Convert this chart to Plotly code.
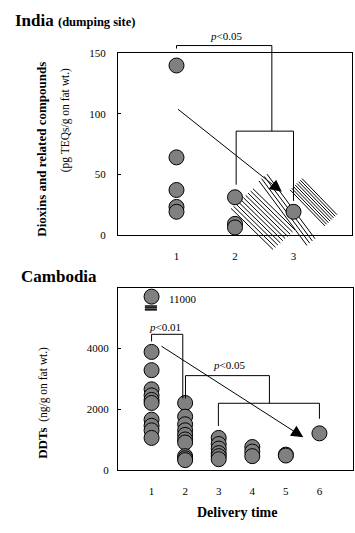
import plotly.graph_objects as go

W, H = 355, 533
FONT = "Liberation Serif"

# ---------------- data ----------------
# India (dumping site): dioxins and related compounds, pg TEQs/g on fat wt.
india_delivery = [1, 1, 1, 1, 1, 2, 2, 2, 3]
india_dioxins = [140, 64, 37, 23, 19, 31, 9, 6, 19]
india_xticks = [1, 2, 3]
india_yticks = [0, 50, 100, 150]

# Cambodia: DDTs, ng/g on fat wt., by delivery time
camb_t1 = [11000, 3880, 3280, 2650, 2450, 2300, 2200, 1650, 1450, 1300, 1050]
camb_t2 = [2200, 1750, 1500, 1300, 1150, 1000, 900, 450, 380, 320]
camb_t3 = [1050, 850, 700, 550, 450, 350]
camb_t4 = [750, 600, 450]
camb_t5 = [500, 470]
camb_t6 = [1200]
camb_xticks = [1, 2, 3, 4, 5, 6]
camb_yticks = [0, 2000, 4000]
camb_break_at = 5700          # plotted position of the off-scale value (broken axis)
camb_outlier_label = "11000"

# ---------------- layout geometry ----------------
TOP = dict(xdom=[118 / W, 352 / W], ydom=[1 - 234 / H, 1 - 48.5 / H], xr=[0, 4], yr=[0, 150])
BOT = dict(xdom=[118 / W, 353 / W], ydom=[1 - 474.5 / H, 1 - 288 / H], xr=[0, 7], yr=[0, 6000])


def to_paper(ax, x, y):
    px = ax["xdom"][0] + (x - ax["xr"][0]) / (ax["xr"][1] - ax["xr"][0]) * (ax["xdom"][1] - ax["xdom"][0])
    py = ax["ydom"][0] + (y - ax["yr"][0]) / (ax["yr"][1] - ax["yr"][0]) * (ax["ydom"][1] - ax["ydom"][0])
    return px, py


shapes = []


def polyline(ax, pts, width=1, color="black", layer="above"):
    for (x0, y0), (x1, y1) in zip(pts[:-1], pts[1:]):
        a = to_paper(ax, x0, y0)
        b = to_paper(ax, x1, y1)
        shapes.append(dict(type="line", xref="paper", yref="paper", x0=a[0], y0=a[1], x1=b[0], y1=b[1],
                           line=dict(color=color, width=width), layer=layer))


def hatch(ax, s0, s1, vec, n):
    for i in range(n):
        t = i / (n - 1)
        sx = s0[0] + t * (s1[0] - s0[0])
        sy = s0[1] + t * (s1[1] - s0[1])
        polyline(ax, [(sx, sy), (sx + vec[0], sy + vec[1])], width=1, layer="below")


marker = dict(size=15, color="#808080", line=dict(color="black", width=1))

fig = go.Figure()

# India panel
fig.add_trace(go.Scatter(x=india_delivery, y=india_dioxins, mode="markers", marker=marker,
                         xaxis="x", yaxis="y", cliponaxis=False, showlegend=False))

# Cambodia panel
camb_x, camb_y = [], []
for t, vals in enumerate([camb_t1, camb_t2, camb_t3, camb_t4, camb_t5, camb_t6], start=1):
    for v in vals:
        camb_x.append(t)
        camb_y.append(min(v, camb_break_at))
fig.add_trace(go.Scatter(x=camb_x, y=camb_y, mode="markers", marker=marker,
                         xaxis="x2", yaxis="y2", cliponaxis=False, showlegend=False))

# ---------- hatching (India panel) ----------
hatch(TOP, (1.932, 21.8), (2.308, 38.0), (0.718, -34.0), 10)
hatch(TOP, (2.410, 44.5), (2.547, 50.1), (0.821, -53.4), 4)
hatch(TOP, (2.940, 37.2), (3.145, 46.5), (0.598, -29.9), 8)

# ---------- significance brackets ----------
polyline(TOP, [(1.0, 154), (1.0, 156.5), (2.63, 156.5), (2.63, 85.7)])
polyline(TOP, [(2.02, 41.4), (2.02, 85.7), (3.0, 85.7), (3.0, 28)])
polyline(BOT, [(1.0, 4225), (1.0, 4460), (1.93, 4460), (1.93, 2350)])
polyline(BOT, [(2.01, 2350), (2.01, 3100), (4.51, 3100), (4.51, 2190)])
polyline(BOT, [(2.99, 1444), (2.99, 2190), (6.0, 2190), (6.0, 1680)])

# axis-break marks under the off-scale point
for yb in [5390, 5330, 5265]:
    polyline(BOT, [(0.80, yb), (1.16, yb)], width=1.5)

annotations = []
# trend arrows
annotations.append(dict(x=2.80, y=35.5, ax=1.0, ay=104.8, xref="x", yref="y", axref="x", ayref="y",
                        showarrow=True, arrowhead=2, arrowsize=2.4, arrowwidth=1, arrowcolor="black", text=""))
annotations.append(dict(x=5.52, y=1070, ax=1.25, ay=4100, xref="x2", yref="y2", axref="x2", ayref="y2",
                        showarrow=True, arrowhead=2, arrowsize=2.4, arrowwidth=1, arrowcolor="black", text=""))

# p-value labels
pfont = dict(family=FONT, size=11, color="black")
px_, py_ = to_paper(TOP, 1.846, 164.5)
annotations.append(dict(x=px_, y=py_, xref="paper", yref="paper", xanchor="center", yanchor="middle",
                        text="<i>p</i>&lt;0.05", showarrow=False, font=pfont))
annotations.append(dict(x=1.40, y=4710, xref="x2", yref="y2", text="<i>p</i>&lt;0.01", showarrow=False, font=pfont))
annotations.append(dict(x=3.31, y=3457, xref="x2", yref="y2", text="<i>p</i>&lt;0.05", showarrow=False, font=pfont))
annotations.append(dict(x=1.45, y=5620, xref="x2", yref="y2", text=camb_outlier_label, showarrow=False,
                        xanchor="left", font=pfont))

# panel titles
annotations.append(dict(x=13 / W, y=1 - 15 / H, xref="paper", yref="paper", xanchor="left", yanchor="middle",
                        showarrow=False,
                        text="<b><span style='font-size:17px'>India</span> <span style='font-size:12.5px'>(dumping site)</span></b>",
                        font=dict(family=FONT, size=17, color="black")))
annotations.append(dict(x=19 / W, y=1 - 277 / H, xref="paper", yref="paper", xanchor="left", yanchor="middle",
                        showarrow=False, text="<b>Cambodia</b>", font=dict(family=FONT, size=17, color="black")))
annotations.append(dict(x=237 / W, y=1 - 518 / H, xref="paper", yref="paper", xanchor="center", yanchor="middle",
                        showarrow=False, text="<b>Delivery time</b>", font=dict(family=FONT, size=14, color="black")))

# y-axis titles
annotations.append(dict(x=42 / W, y=1 - 147 / H, xref="paper", yref="paper", xanchor="center", yanchor="middle",
                        textangle=-90, showarrow=False, text="<b>Dioxins and related compounds</b>",
                        font=dict(family=FONT, size=13, color="black")))
annotations.append(dict(x=65 / W, y=1 - 117 / H, xref="paper", yref="paper", xanchor="center", yanchor="middle",
                        textangle=-90, showarrow=False, text="(pg TEQs/g on fat wt.)",
                        font=dict(family=FONT, size=11.5, color="black")))
annotations.append(dict(x=43 / W, y=1 - 406 / H, xref="paper", yref="paper", xanchor="center", yanchor="middle",
                        textangle=-90, showarrow=False,
                        text="<b><span style='font-size:13px'>DDTs</span></b>  (ng/g on fat wt.)",
                        font=dict(family=FONT, size=11.5, color="black")))

axis_common = dict(showline=True, mirror=True, linecolor="black", linewidth=1, showgrid=False, zeroline=False,
                   tickfont=dict(family=FONT, size=11, color="black"), fixedrange=True)

fig.update_layout(
    width=W, height=H, autosize=False,
    margin=dict(l=0, r=0, t=0, b=0),
    paper_bgcolor="white", plot_bgcolor="rgba(0,0,0,0)",
    showlegend=False,
    xaxis=dict(domain=TOP["xdom"], range=TOP["xr"], anchor="y", tickvals=india_xticks, ticks="",
               ticklabelstandoff=11, **axis_common),
    yaxis=dict(domain=TOP["ydom"], range=TOP["yr"], anchor="x", tickvals=india_yticks, ticks="inside",
               ticklen=3, tickcolor="black", ticklabelstandoff=9, **axis_common),
    xaxis2=dict(domain=BOT["xdom"], range=BOT["xr"], anchor="y2", tickvals=camb_xticks, ticks="",
                ticklabelstandoff=11, **axis_common),
    yaxis2=dict(domain=BOT["ydom"], range=BOT["yr"], anchor="x2", tickvals=camb_yticks, ticks="inside",
                ticklen=3, tickcolor="black", ticklabelstandoff=6, **axis_common),
    shapes=shapes,
    annotations=annotations,
)

fig.write_html("out.html", config={"displayModeBar": False},
               post_script="document.documentElement.style.margin='0px';document.body.style.margin='0px';"
                           "document.documentElement.style.overflow='hidden';")
